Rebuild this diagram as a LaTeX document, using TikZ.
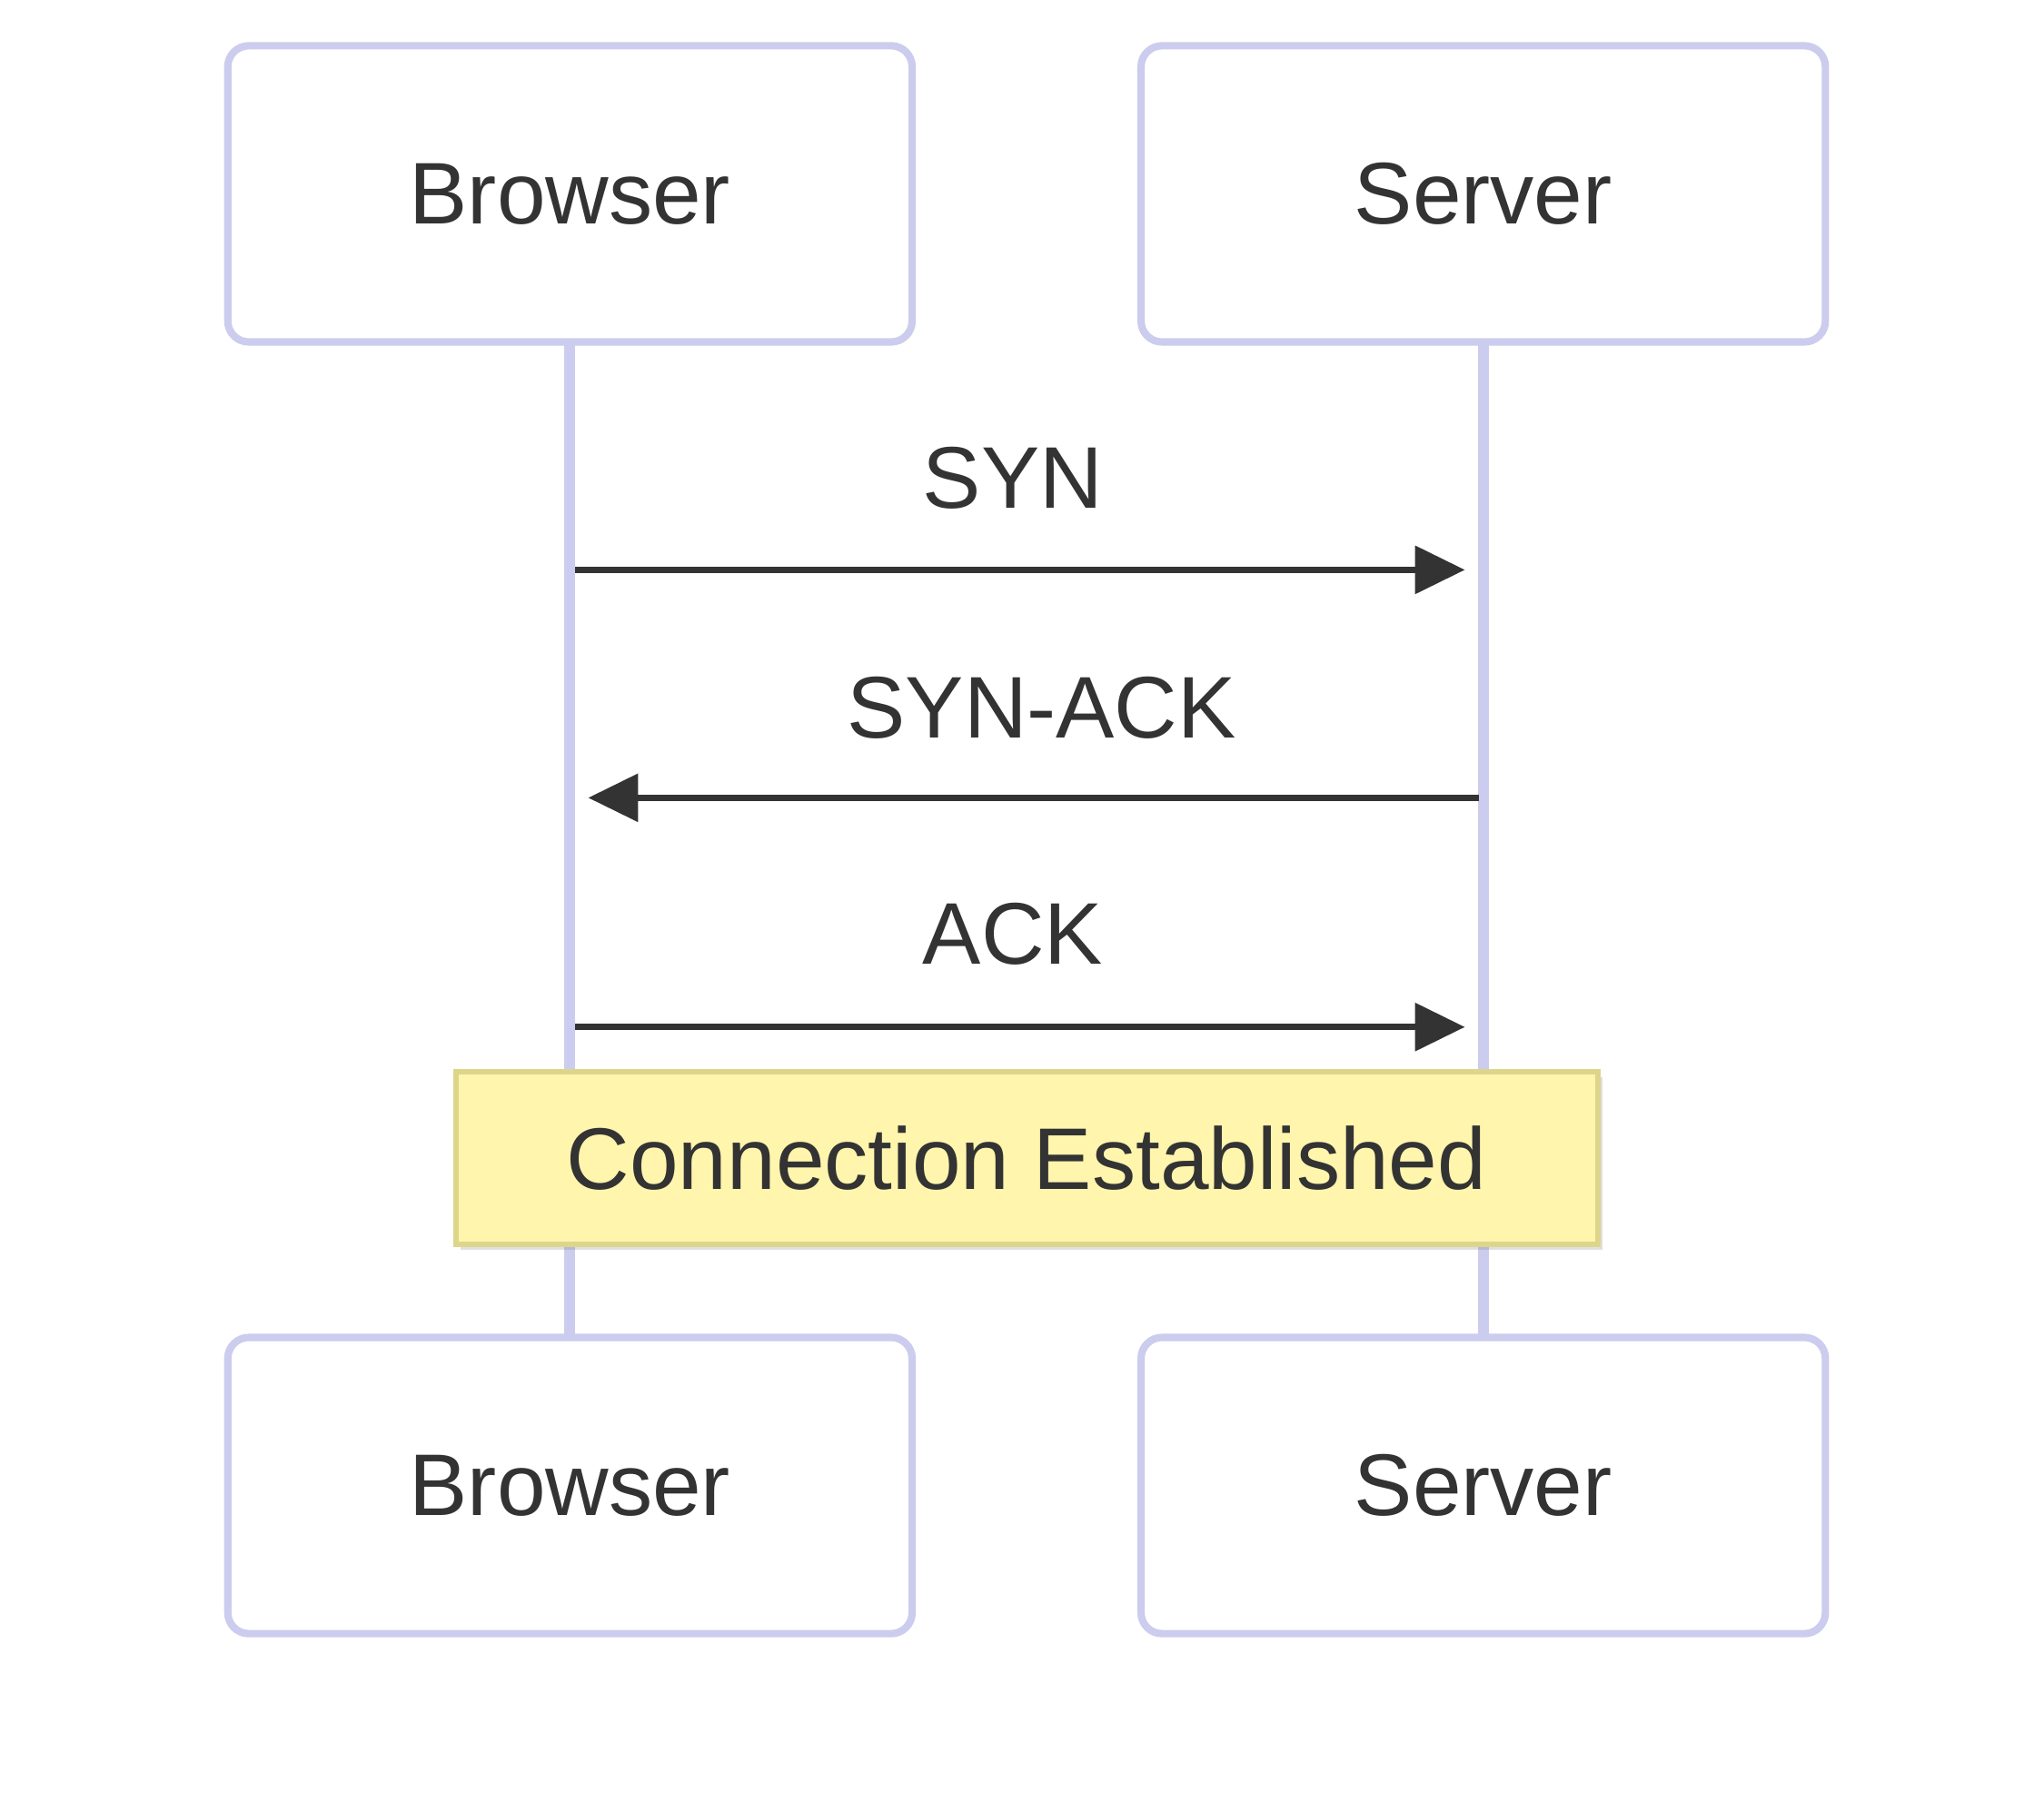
\documentclass[tikz,border=0pt]{standalone}
\usepackage{fontspec}
\setmainfont{Liberation Sans}
\usetikzlibrary{arrows.meta,shadows}
\definecolor{actb}{HTML}{CCCCEE}
\definecolor{txt}{HTML}{333333}
\definecolor{notef}{HTML}{FFF5AD}
\definecolor{noted}{HTML}{DDD68A}
\tikzset{
  actor/.style={draw=actb,line width=1.6pt,rounded corners=0.16cm,fill=white,minimum width=5.22cm,minimum height=2.26cm,text=txt,font=\fontsize{19}{22}\selectfont},
  life/.style={draw=actb,line width=2.4pt},
  msg/.style={draw=txt,line width=1.3pt,-{Triangle[length=0.38cm,width=0.36cm]}},
  lbl/.style={text=txt,font=\fontsize{19}{22}\selectfont},
  notebox/.style={draw=noted,line width=1.2pt,fill=notef,minimum width=8.71cm,minimum height=1.32cm,text=txt,font=\fontsize{19}{22}\selectfont,drop shadow={opacity=0.25,shadow xshift=0.04cm,shadow yshift=-0.04cm}}
}
\begin{document}
\begin{tikzpicture}[x=0.01cm,y=-0.01cm]
\useasboundingbox[fill=white] (0,0) rectangle (1560,1383);
\draw[life] (435,261) -- (435,1021);
\draw[life] (1132,261) -- (1132,1021);
\node[actor] (b1) at (435,148) {Browser};
\node[actor] (s1) at (1132,148) {Server};
\node[actor] (b2) at (435,1134) {Browser};
\node[actor] (s2) at (1132,1134) {Server};
\coordinate (a1s) at (439,435); \coordinate (a1e) at (1118,435);
\coordinate (a2s) at (1129,609); \coordinate (a2e) at (449,609);
\coordinate (a3s) at (439,784); \coordinate (a3e) at (1118,784);
\draw[msg] (a1s) -- (a1e);
\draw[msg] (a2s) -- (a2e);
\draw[msg] (a3s) -- (a3e);
\node[lbl] (l1) at (773,365) {SYN};
\node[lbl] (l2) at (795,540) {SYN-ACK};
\node[lbl] (l3) at (773,713) {ACK};
\node[notebox] (n) at (783.5,884) {Connection Established};
\end{tikzpicture}
\end{document}
